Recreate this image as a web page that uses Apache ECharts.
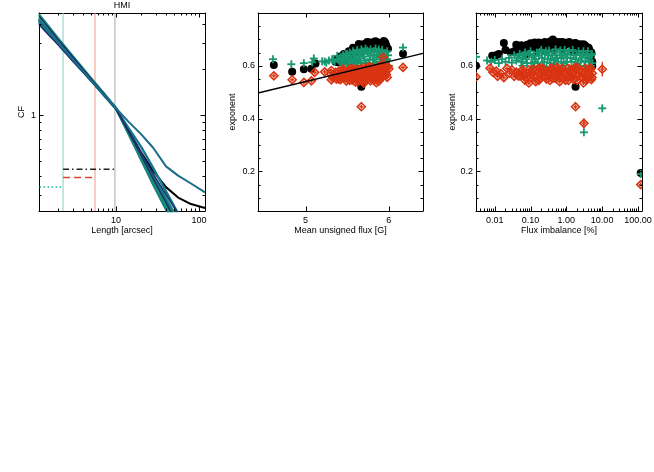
<!DOCTYPE html>
<html>
<head>
<meta charset="utf-8">
<script src="https://cdn.jsdelivr.net/npm/echarts@6/dist/echarts.min.js"></script>
<style>
  html, body { margin: 0; background: #fff; }
  #chart { width: 654px; height: 472px; }
</style>
</head>
<body>
<div id="chart"></div>
<script>
// panel 1: CF against length, one curve per region
const LENGTH = [1.18, 1.5, 2, 3, 5, 7, 10, 14, 20, 28, 40, 56, 80, 118];
const CF_BUNDLE = [
  [4.60, 3.90, 3.20, 2.45, 1.75, 1.41, 1.11, 0.78, 0.55, 0.40, 0.285, 0.205, 0.14, 0.095],
  [4.40, 3.76, 3.12, 2.40, 1.73, 1.40, 1.11, 0.77, 0.52, 0.36, 0.245, 0.17, 0.11, 0.07],
  [4.20, 3.60, 3.00, 2.33, 1.70, 1.38, 1.10, 0.79, 0.55, 0.385, 0.27, 0.19, 0.13, 0.085],
  [4.05, 3.50, 2.95, 2.30, 1.69, 1.38, 1.11, 0.76, 0.51, 0.35, 0.24, 0.165, 0.11, 0.07],
  [4.30, 3.68, 3.06, 2.37, 1.72, 1.39, 1.11, 0.775, 0.535, 0.37, 0.255, 0.18, 0.12, 0.08],
  [4.15, 3.56, 2.98, 2.31, 1.69, 1.37, 1.10, 0.83, 0.62, 0.45, 0.315, 0.225, 0.16, 0.11]
];
const CF_NAVY = [
  [4.50, 3.82, 3.15, 2.42, 1.74, 1.40, 1.10, 0.80, 0.57, 0.41, 0.30, 0.225, 0.16, 0.11],
  [3.95, 3.42, 2.90, 2.27, 1.68, 1.37, 1.10, 0.78, 0.545, 0.38, 0.265, 0.185, 0.125, 0.085]
];
const CF_BLACK = [4.30, 3.68, 3.06, 2.37, 1.72, 1.39, 1.11, 0.80, 0.57, 0.43, 0.336, 0.287, 0.26, 0.245];
const CF_WIDE = [4.20, 3.60, 3.00, 2.33, 1.70, 1.38, 1.11, 0.91, 0.75, 0.61, 0.46, 0.40, 0.355, 0.31];
const CUTOFFS = [2.3, 5.58, 9.7];
const LEVEL_BLACK = [[2.3, 0.44], [9.7, 0.44]];
const LEVEL_RED = [[2.3, 0.389], [5.4, 0.389]];
const LEVEL_GREEN = [[1.2, 0.337], [2.2, 0.337]];

// panel 2: exponent against mean unsigned flux
const FLUX_BLACK = [
  [4.62, 0.603], [4.84, 0.577], [4.98, 0.587], [5.07, 0.589], [5.12, 0.609], [5.39, 0.613],
  [5.67, 0.521], [6.17, 0.646],
  [5.36, 0.615], [5.40, 0.622], [5.44, 0.628], [5.47, 0.636], [5.50, 0.642], [5.53, 0.65],
  [5.55, 0.655], [5.58, 0.66], [5.60, 0.665], [5.62, 0.668], [5.65, 0.675], [5.67, 0.68],
  [5.70, 0.682], [5.72, 0.678], [5.75, 0.684], [5.78, 0.681], [5.80, 0.686], [5.83, 0.682],
  [5.86, 0.684], [5.88, 0.679], [5.90, 0.686], [5.93, 0.682], [5.95, 0.69], [5.97, 0.676],
  [5.99, 0.665], [5.60, 0.65], [5.70, 0.665], [5.80, 0.67], [5.90, 0.67], [5.50, 0.63],
  [5.45, 0.615], [5.65, 0.655], [5.75, 0.67], [5.85, 0.675], [5.95, 0.672], [5.55, 0.64],
  [5.38, 0.625], [5.42, 0.635], [5.46, 0.645], [5.52, 0.655], [5.57, 0.668], [5.63, 0.665],
  [5.68, 0.672], [5.73, 0.685], [5.77, 0.688], [5.82, 0.69], [5.87, 0.688], [5.92, 0.68],
  [5.96, 0.685], [5.64, 0.683], [5.74, 0.69], [5.84, 0.693], [5.94, 0.694]
];
const FLUX_GREEN = [
  [4.61, 0.625], [4.83, 0.606], [4.98, 0.61], [5.08, 0.613], [5.10, 0.628], [5.23, 0.616],
  [5.33, 0.621], [5.38, 0.638], [5.73, 0.579], [5.84, 0.587], [6.17, 0.669],
  [5.20, 0.617], [5.25, 0.612], [5.28, 0.62], [5.32, 0.625], [5.35, 0.615], [5.40, 0.62],
  [5.42, 0.632], [5.45, 0.64], [5.48, 0.62], [5.50, 0.645], [5.50, 0.605], [5.53, 0.65],
  [5.55, 0.625], [5.57, 0.655], [5.58, 0.60], [5.60, 0.64], [5.62, 0.66], [5.63, 0.615],
  [5.65, 0.648], [5.67, 0.662], [5.68, 0.60], [5.70, 0.635], [5.72, 0.665], [5.73, 0.61],
  [5.75, 0.648], [5.77, 0.625], [5.78, 0.662], [5.80, 0.598], [5.82, 0.64], [5.84, 0.665],
  [5.85, 0.615], [5.87, 0.652], [5.88, 0.59], [5.90, 0.635], [5.92, 0.66], [5.93, 0.605],
  [5.95, 0.645], [5.97, 0.62], [5.98, 0.655], [6.00, 0.60], [5.55, 0.59], [5.65, 0.628],
  [5.75, 0.598], [5.85, 0.632], [5.60, 0.618], [5.70, 0.652], [5.90, 0.615], [5.52, 0.618],
  [5.45, 0.605], [5.96, 0.59],
  [5.41, 0.625], [5.43, 0.612], [5.46, 0.628], [5.49, 0.635], [5.51, 0.622], [5.54, 0.638],
  [5.56, 0.61], [5.59, 0.648], [5.61, 0.628], [5.64, 0.638], [5.66, 0.61], [5.69, 0.645],
  [5.71, 0.62], [5.74, 0.658], [5.76, 0.61], [5.79, 0.65], [5.81, 0.622], [5.83, 0.605],
  [5.86, 0.642], [5.89, 0.625], [5.91, 0.65], [5.94, 0.63], [5.96, 0.612], [5.99, 0.64],
  [5.62, 0.60], [5.72, 0.60], [5.82, 0.655], [5.92, 0.645], [5.68, 0.655], [5.78, 0.64],
  [5.58, 0.63], [5.48, 0.645], [5.88, 0.662], [5.98, 0.625]
];
const FLUX_RED = [
  [4.62, 0.562], [4.84, 0.547], [4.98, 0.537], [5.07, 0.543], [5.11, 0.575], [5.23, 0.577],
  [5.31, 0.547], [5.67, 0.445], [5.78, 0.543], [6.17, 0.594], [5.93, 0.632],
  [5.30, 0.57], [5.33, 0.555], [5.36, 0.575], [5.38, 0.56], [5.40, 0.58], [5.42, 0.548],
  [5.45, 0.57], [5.47, 0.582], [5.48, 0.555], [5.50, 0.572], [5.52, 0.585], [5.53, 0.545],
  [5.55, 0.565], [5.57, 0.58], [5.58, 0.552], [5.60, 0.588], [5.62, 0.562], [5.63, 0.54],
  [5.65, 0.576], [5.67, 0.59], [5.68, 0.556], [5.70, 0.572], [5.72, 0.592], [5.73, 0.545],
  [5.75, 0.58], [5.77, 0.562], [5.78, 0.594], [5.80, 0.572], [5.82, 0.545], [5.83, 0.586],
  [5.85, 0.556], [5.87, 0.595], [5.88, 0.572], [5.90, 0.55], [5.92, 0.59], [5.93, 0.562],
  [5.95, 0.598], [5.96, 0.577], [5.98, 0.556], [6.00, 0.588], [5.55, 0.59], [5.65, 0.548],
  [5.75, 0.596], [5.85, 0.536], [5.45, 0.588], [5.40, 0.55], [5.90, 0.60],
  [5.31, 0.582], [5.34, 0.562], [5.37, 0.55], [5.41, 0.565], [5.43, 0.58], [5.46, 0.556],
  [5.49, 0.542], [5.51, 0.562], [5.54, 0.577], [5.56, 0.546], [5.59, 0.572], [5.61, 0.552],
  [5.64, 0.585], [5.66, 0.562], [5.69, 0.542], [5.71, 0.584], [5.74, 0.566], [5.76, 0.59],
  [5.79, 0.552], [5.81, 0.58], [5.84, 0.566], [5.86, 0.588], [5.89, 0.557], [5.91, 0.576],
  [5.94, 0.592], [5.97, 0.567], [5.99, 0.596], [5.70, 0.534], [5.60, 0.538], [5.80, 0.592],
  [5.50, 0.556], [5.88, 0.542]
];
const FIT = [[4.43, 0.497], [6.41, 0.647]];

// panel 3: exponent against flux imbalance [%]
const IMB_BLACK = [
  [0.003, 0.60], [1.81, 0.521], [120, 0.194], [5.3, 0.598],
  [0.0085, 0.638], [0.011, 0.64], [0.013, 0.645], [0.018, 0.686], [0.02, 0.66], [0.028, 0.65],
  [0.04, 0.68], [0.035, 0.655], [0.05, 0.66], [0.06, 0.67], [0.07, 0.675], [0.09, 0.665],
  [0.10, 0.685], [0.12, 0.672], [0.14, 0.68], [0.17, 0.688], [0.20, 0.675], [0.25, 0.69],
  [0.30, 0.68], [0.35, 0.692], [0.42, 0.70], [0.50, 0.685], [0.60, 0.69], [0.70, 0.678],
  [0.85, 0.688], [1.0, 0.682], [1.2, 0.69], [1.4, 0.678], [1.7, 0.685], [2.0, 0.675],
  [2.4, 0.682], [2.8, 0.672], [3.3, 0.678], [3.8, 0.665], [4.4, 0.66], [5.0, 0.65],
  [5.3, 0.615], [0.15, 0.655], [0.45, 0.66], [1.5, 0.655], [3.0, 0.65], [0.08, 0.645],
  [0.25, 0.655], [0.8, 0.66], [2.2, 0.655], [4.8, 0.635],
  [0.045, 0.67], [0.055, 0.678], [0.08, 0.68], [0.11, 0.672], [0.13, 0.688], [0.16, 0.676],
  [0.19, 0.685], [0.22, 0.68], [0.28, 0.686], [0.33, 0.678], [0.38, 0.69], [0.46, 0.692],
  [0.55, 0.68], [0.65, 0.685], [0.75, 0.69], [0.9, 0.678], [1.1, 0.685], [1.3, 0.684],
  [1.6, 0.676], [1.8, 0.686], [2.2, 0.68], [2.6, 0.676], [3.0, 0.682], [3.6, 0.672], [4.2, 0.668]
];
const IMB_GREEN = [
  [0.003, 0.634], [3.1, 0.348], [10.1, 0.439], [120, 0.19],
  [0.0061, 0.62], [0.008, 0.615], [0.010, 0.622], [0.013, 0.61], [0.016, 0.625], [0.020, 0.615],
  [0.025, 0.63], [0.030, 0.612], [0.035, 0.64], [0.04, 0.62], [0.05, 0.645], [0.06, 0.628],
  [0.07, 0.65], [0.08, 0.61], [0.10, 0.655], [0.11, 0.632], [0.13, 0.615], [0.15, 0.65],
  [0.17, 0.638], [0.20, 0.66], [0.22, 0.60], [0.25, 0.645], [0.30, 0.625], [0.33, 0.658],
  [0.40, 0.64], [0.45, 0.605], [0.50, 0.662], [0.55, 0.63], [0.65, 0.65], [0.75, 0.60],
  [0.80, 0.638], [0.90, 0.66], [1.0, 0.615], [1.1, 0.645], [1.3, 0.63], [1.5, 0.66],
  [1.7, 0.60], [1.9, 0.64], [2.2, 0.655], [2.5, 0.62], [2.8, 0.645], [3.2, 0.60],
  [3.6, 0.638], [4.0, 0.655], [4.5, 0.62], [5.0, 0.64], [5.3, 0.61], [0.12, 0.595],
  [0.35, 0.61], [1.2, 0.59], [0.06, 0.60], [0.70, 0.58], [0.28, 0.595], [2.0, 0.605],
  [4.2, 0.598],
  [0.045, 0.632], [0.055, 0.615], [0.065, 0.64], [0.075, 0.625], [0.09, 0.645], [0.105, 0.61],
  [0.125, 0.64], [0.14, 0.625], [0.16, 0.61], [0.18, 0.652], [0.21, 0.63], [0.24, 0.615],
  [0.27, 0.655], [0.31, 0.64], [0.36, 0.625], [0.42, 0.65], [0.48, 0.62], [0.52, 0.64],
  [0.60, 0.615], [0.68, 0.658], [0.72, 0.63], [0.85, 0.61], [0.95, 0.645], [1.05, 0.63],
  [1.2, 0.655], [1.4, 0.615], [1.6, 0.64], [1.8, 0.625], [2.1, 0.61], [2.4, 0.645],
  [2.7, 0.63], [3.0, 0.655], [3.4, 0.615], [3.8, 0.645], [4.3, 0.632], [4.8, 0.60], [5.2, 0.645]
];
const IMB_RED = [
  [0.003, 0.558], [1.81, 0.445], [3.1, 0.382], [10.1, 0.587], [120, 0.15],
  [0.0074, 0.591], [0.009, 0.575], [0.011, 0.58], [0.012, 0.56], [0.015, 0.57], [0.018, 0.555],
  [0.022, 0.59], [0.026, 0.572], [0.030, 0.585], [0.035, 0.56], [0.04, 0.576], [0.05, 0.562],
  [0.06, 0.585], [0.07, 0.545], [0.08, 0.572], [0.10, 0.556], [0.12, 0.588], [0.14, 0.54],
  [0.16, 0.572], [0.19, 0.552], [0.22, 0.59], [0.26, 0.562], [0.30, 0.576], [0.35, 0.545],
  [0.40, 0.585], [0.45, 0.566], [0.50, 0.552], [0.60, 0.588], [0.70, 0.556], [0.80, 0.576],
  [0.95, 0.545], [1.1, 0.59], [1.25, 0.562], [1.4, 0.576], [1.6, 0.548], [1.9, 0.588],
  [2.2, 0.562], [2.6, 0.576], [3.0, 0.535], [3.4, 0.59], [3.9, 0.556], [4.4, 0.58],
  [5.0, 0.548], [5.3, 0.572], [0.18, 0.592], [0.55, 0.594], [2.0, 0.594], [0.09, 0.535],
  [0.65, 0.54], [4.6, 0.59],
  [0.045, 0.562], [0.055, 0.58], [0.065, 0.566], [0.075, 0.556], [0.09, 0.585], [0.11, 0.572],
  [0.13, 0.556], [0.15, 0.585], [0.17, 0.545], [0.20, 0.572], [0.24, 0.585], [0.28, 0.55],
  [0.32, 0.562], [0.38, 0.592], [0.42, 0.552], [0.48, 0.58], [0.55, 0.562], [0.65, 0.576],
  [0.75, 0.59], [0.85, 0.552], [1.0, 0.572], [1.15, 0.545], [1.3, 0.585], [1.5, 0.566],
  [1.7, 0.592], [2.0, 0.545], [2.4, 0.585], [2.8, 0.556], [3.2, 0.572], [3.6, 0.545],
  [4.1, 0.566], [4.8, 0.59], [5.2, 0.556]
];
// error bars [x, y, half-length]
const ERR_RED = [[10.1, 0.587, 0.028], [3.1, 0.382, 0.018], [1.81, 0.445, 0.008]];

const FONT = 'Liberation Sans';
const BLACK = '#000';
const GREEN = '#17976f';
const RED = '#d93412';
const BUNDLE_COLORS = ['#16877e', '#1a9a78', '#0f6f84', '#14807f', '#1d9470', '#17788c'];
const NAVY = '#1c2a6e';
const CUT_COLORS = ['#86d0c0', '#f39a84', '#a8a8a8'];

const P1 = { x: [1.18, 118], y: [0.234, 4.7] };
const P2 = { x: [4.43, 6.41], y: [0.05, 0.8] };
const P3 = { x: [0.003, 130], y: [0.05, 0.8] };

function logTicks(lo, hi) {
  const major = [], minor = [];
  for (let e = -4; e <= 3; e++) {
    for (let m = 1; m <= 9; m++) {
      const v = +(m * Math.pow(10, e)).toPrecision(3);
      if (v <= lo || v >= hi) continue;
      (m === 1 ? major : minor).push(v);
    }
  }
  return { major, minor };
}
function linTicks(lo, hi, step, every) {
  const major = [], minor = [];
  for (let i = Math.ceil(lo / step); i * step < hi + 1e-9; i++) {
    const v = +(i * step).toFixed(4);
    if (v <= lo || v >= hi) continue;
    (i % every === 0 ? major : minor).push(v);
  }
  return { major, minor };
}
// tick marks drawn inward on all four sides
function tickData(p, xt, yt) {
  const d = [];
  xt.major.forEach(v => d.push([v, p.y[0], 0, 1]));
  xt.minor.forEach(v => d.push([v, p.y[0], 0, 0]));
  yt.major.forEach(v => d.push([p.x[0], v, 1, 1]));
  yt.minor.forEach(v => d.push([p.x[0], v, 1, 0]));
  return d;
}
function renderTick(params, api) {
  const cs = params.coordSys;
  const len = api.value(3) ? 4.5 : 2.5;
  const pt = api.coord([api.value(0), api.value(1)]);
  const st = { stroke: '#000', lineWidth: 1 };
  if (api.value(2) === 0) {
    const x = Math.round(pt[0]) + 0.5, b = cs.y + cs.height;
    return { type: 'group', children: [
      { type: 'line', shape: { x1: x, y1: b, x2: x, y2: b - len }, style: st },
      { type: 'line', shape: { x1: x, y1: cs.y, x2: x, y2: cs.y + len }, style: st }
    ] };
  }
  const y = Math.round(pt[1]) + 0.5, r = cs.x + cs.width;
  return { type: 'group', children: [
    { type: 'line', shape: { x1: cs.x, y1: y, x2: cs.x + len, y2: y }, style: st },
    { type: 'line', shape: { x1: r, y1: y, x2: r - len, y2: y }, style: st }
  ] };
}
function renderErr(params, api) {
  const y = api.value(1), e = api.value(2);
  const a = api.coord([api.value(0), y - e]);
  const b = api.coord([api.value(0), y + e]);
  return { type: 'line', shape: { x1: a[0], y1: a[1], x2: b[0], y2: b[1] },
    style: { stroke: RED, lineWidth: 1.3 } };
}
// IDL-like plot symbols, clipped at the plot frame
function dotMark(params, api) {
  const p = api.coord([api.value(0), api.value(1)]);
  return { type: 'circle', shape: { cx: p[0], cy: p[1], r: 4 }, style: { fill: BLACK } };
}
function plusMark(params, api) {
  const p = api.coord([api.value(0), api.value(1)]);
  return { type: 'group', children: [
    { type: 'rect', shape: { x: p[0] - 4, y: p[1] - 0.9, width: 8, height: 1.8 }, style: { fill: GREEN } },
    { type: 'rect', shape: { x: p[0] - 0.9, y: p[1] - 4, width: 1.8, height: 8 }, style: { fill: GREEN } }
  ] };
}
function diamondMark(params, api) {
  const p = api.coord([api.value(0), api.value(1)]);
  const st = { fill: 'none', stroke: RED, lineWidth: 1.6 };
  return { type: 'group', children: [
    { type: 'polygon', shape: { points: [[p[0], p[1] - 4], [p[0] + 4, p[1]], [p[0], p[1] + 4], [p[0] - 4, p[1]]] }, style: st },
    { type: 'line', shape: { x1: p[0] - 2, y1: p[1], x2: p[0] + 2, y2: p[1] }, style: { stroke: RED, lineWidth: 1.4 } },
    { type: 'line', shape: { x1: p[0], y1: p[1] - 2, x2: p[0], y2: p[1] + 2 }, style: { stroke: RED, lineWidth: 1.4 } }
  ] };
}

const labelStyle = { fontSize: 9, color: '#000', fontFamily: FONT };
const nameStyle = { fontSize: 9, color: '#000', fontFamily: FONT };
const lineStyle = { color: '#000', width: 1 };

function xAxis(i, type, p, name, fmt, gap) {
  return {
    gridIndex: i, type, min: p.x[0], max: p.x[1], logBase: 10, splitNumber: type === 'log' ? 5 : 2,
    name, nameLocation: 'middle', nameGap: gap, nameTextStyle: nameStyle,
    axisLine: { show: true, lineStyle }, axisTick: { show: false }, splitLine: { show: false },
    axisLabel: Object.assign({ formatter: fmt, margin: 5, showMinLabel: false, showMaxLabel: false }, labelStyle)
  };
}
function yAxis(i, type, p, name, fmt, gap) {
  return {
    gridIndex: i, type, min: p.y[0], max: p.y[1], logBase: 10, splitNumber: 4,
    name, nameLocation: 'middle', nameGap: gap, nameTextStyle: nameStyle,
    axisLine: { show: true, lineStyle }, axisTick: { show: false }, splitLine: { show: false },
    axisLabel: Object.assign({ formatter: fmt, margin: 3, showMinLabel: false, showMaxLabel: false }, labelStyle)
  };
}
// top and right frame lines
function frame(i, position) {
  return { gridIndex: i, type: 'value', position, axisLine: { show: true, lineStyle },
    axisTick: { show: false }, axisLabel: { show: false }, splitLine: { show: false } };
}

const chart = echarts.init(document.getElementById('chart'), null, { renderer: 'canvas' });

const series = [];
// panel 1
series.push({
  type: 'line', xAxisIndex: 0, yAxisIndex: 0, data: LENGTH.map((x, k) => [x, CF_BLACK[k]]),
  showSymbol: false, lineStyle: { color: BLACK, width: 2 }, silent: true, z: 2
});
CUTOFFS.forEach((c, j) => series.push({
  type: 'line', xAxisIndex: 0, yAxisIndex: 0, data: [[c, P1.y[0]], [c, P1.y[1]]],
  showSymbol: false, lineStyle: { color: CUT_COLORS[j], width: 1 }, silent: true, z: 1
}));
CF_BUNDLE.forEach((row, j) => series.push({
  type: 'line', xAxisIndex: 0, yAxisIndex: 0, data: LENGTH.map((x, k) => [x, row[k]]),
  showSymbol: false, lineStyle: { color: BUNDLE_COLORS[j], width: 2.4 }, silent: true, z: 3
}));
CF_NAVY.forEach(row => series.push({
  type: 'line', xAxisIndex: 0, yAxisIndex: 0, data: LENGTH.map((x, k) => [x, row[k]]),
  showSymbol: false, lineStyle: { color: NAVY, width: 1.4 }, silent: true, z: 3
}));
series.push({
  type: 'line', xAxisIndex: 0, yAxisIndex: 0, data: LENGTH.map((x, k) => [x, CF_WIDE[k]]),
  showSymbol: false, lineStyle: { color: '#1b6c88', width: 2 }, silent: true, z: 4
});
series.push({ type: 'line', xAxisIndex: 0, yAxisIndex: 0, data: LEVEL_BLACK, showSymbol: false, silent: true, z: 5,
  lineStyle: { color: '#222', width: 1.5, type: [6, 3, 1.5, 3] } });
series.push({ type: 'line', xAxisIndex: 0, yAxisIndex: 0, data: LEVEL_RED, showSymbol: false, silent: true, z: 5,
  lineStyle: { color: '#e0452a', width: 1.5, type: [7, 4] } });
series.push({ type: 'line', xAxisIndex: 0, yAxisIndex: 0, data: LEVEL_GREEN, showSymbol: false, silent: true, z: 5,
  lineStyle: { color: '#22b28e', width: 1.5, type: [1.5, 2.5] } });

// panels 2 and 3
[[1, FLUX_BLACK, FLUX_GREEN, FLUX_RED], [2, IMB_BLACK, IMB_GREEN, IMB_RED]].forEach(([g, b, gr, r]) => {
  series.push({ type: 'custom', xAxisIndex: g, yAxisIndex: g, data: b, renderItem: dotMark, clip: true, silent: true, z: 2 });
  series.push({ type: 'custom', xAxisIndex: g, yAxisIndex: g, data: gr, renderItem: plusMark, clip: true, silent: true, z: 3 });
  series.push({ type: 'custom', xAxisIndex: g, yAxisIndex: g, data: r, renderItem: diamondMark, clip: true, silent: true, z: 4 });
});
series.push({ type: 'line', xAxisIndex: 1, yAxisIndex: 1, data: FIT, showSymbol: false, silent: true, z: 5,
  lineStyle: { color: BLACK, width: 1.5 } });
series.push({ type: 'custom', xAxisIndex: 2, yAxisIndex: 2, data: ERR_RED, renderItem: renderErr, silent: true, z: 3 });

// tick marks
series.push({ type: 'custom', xAxisIndex: 0, yAxisIndex: 0, renderItem: renderTick, silent: true, z: 10, clip: false,
  data: tickData(P1, logTicks(P1.x[0], P1.x[1]), logTicks(P1.y[0], P1.y[1])) });
series.push({ type: 'custom', xAxisIndex: 1, yAxisIndex: 1, renderItem: renderTick, silent: true, z: 10, clip: false,
  data: tickData(P2, linTicks(P2.x[0], P2.x[1], 1, 1), linTicks(P2.y[0], P2.y[1], 0.05, 4)) });
series.push({ type: 'custom', xAxisIndex: 2, yAxisIndex: 2, renderItem: renderTick, silent: true, z: 10, clip: false,
  data: tickData(P3, logTicks(P3.x[0], P3.x[1]), linTicks(P3.y[0], P3.y[1], 0.05, 4)) });

const num = v => String(+(+v).toPrecision(3));
const fix1 = v => (+v).toFixed(1);

chart.setOption({
  animation: false,
  backgroundColor: '#fff',
  graphic: [{ type: 'text', x: 122, y: 6, style: { text: 'HMI', fontSize: 9, fontFamily: FONT, fill: '#000', align: 'center', verticalAlign: 'middle' } }],
  grid: [
    { left: 39, top: 13, width: 166, height: 198, outerBoundsMode: 'none' },
    { left: 258, top: 13, width: 165, height: 198, outerBoundsMode: 'none' },
    { left: 476, top: 13, width: 166, height: 198, outerBoundsMode: 'none' }
  ],
  xAxis: [
    xAxis(0, 'log', P1, 'Length [arcsec]', num, 15),
    xAxis(1, 'value', P2, 'Mean unsigned flux [G]', num, 15),
    xAxis(2, 'log', P3, 'Flux imbalance [%]', v => (+v).toFixed(2), 15),
    frame(0, 'top'), frame(1, 'top'), frame(2, 'top')
  ],
  yAxis: [
    yAxis(0, 'log', P1, 'CF', num, 13),
    yAxis(1, 'value', P2, 'exponent', fix1, 21),
    yAxis(2, 'value', P3, 'exponent', fix1, 16),
    frame(0, 'right'), frame(1, 'right'), frame(2, 'right')
  ],
  series
});
</script>
</body>
</html>
